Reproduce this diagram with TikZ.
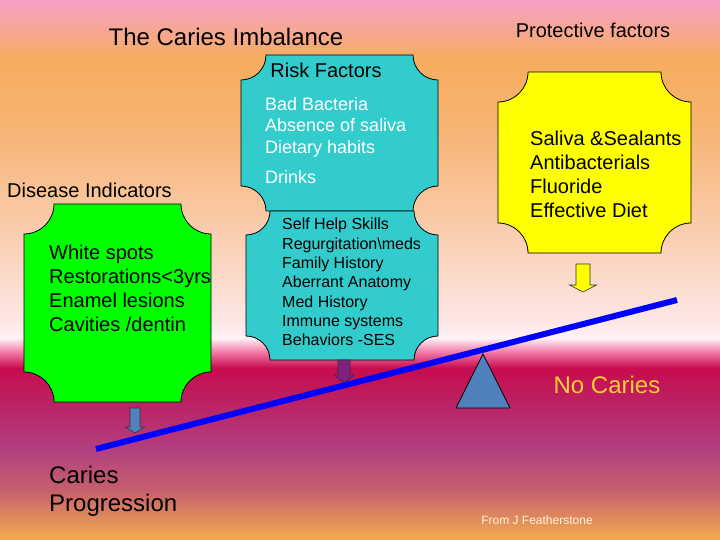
\documentclass[tikz,border=0pt]{standalone}
\usepackage{fontspec}
\setmainfont{Liberation Sans}

\definecolor{plaquegreen}{HTML}{00FF00}
\definecolor{plaqueteal}{HTML}{33CCCC}
\definecolor{plaqueyellow}{HTML}{FFFF00}
\definecolor{steel}{HTML}{4F81BD}
\definecolor{arrowpurple}{HTML}{7F1F7F}
\definecolor{nocariesgold}{HTML}{FFCC33}
\definecolor{cream}{HTML}{FFF2DC}
% background stops, top to bottom
\definecolor{bgA}{HTML}{F79FC6}
\definecolor{bgB}{HTML}{F7A69C}
\definecolor{bgC}{HTML}{F6AD5E}
\definecolor{bgD}{HTML}{F7B474}
\definecolor{bgE}{HTML}{F9C59C}
\definecolor{bgF}{HTML}{FBD8C6}
\definecolor{bgG}{HTML}{FDE6E4}
\definecolor{bgH}{HTML}{FFF2F6}
\definecolor{bgI}{HTML}{F27AA8}
\definecolor{bgJ}{HTML}{C80C4E}
\definecolor{bgK}{HTML}{BC2062}
\definecolor{bgL}{HTML}{B24080}
\definecolor{bgM}{HTML}{C6606E}
\definecolor{bgN}{HTML}{F4AC4E}

\pgfdeclareverticalshading{slidefade}{100bp}{color(0bp)=(bgN); color(25bp)=(bgN);
  color(29.63bp)=(bgM); color(33.33bp)=(bgL); color(37.96bp)=(bgK);
  color(40.93bp)=(bgJ); color(42.41bp)=(bgI); color(43.70bp)=(bgH);
  color(45.37bp)=(bgG); color(50bp)=(bgF); color(56.48bp)=(bgE);
  color(62.96bp)=(bgD); color(69.44bp)=(bgC); color(72.69bp)=(bgB);
  color(75bp)=(bgA); color(100bp)=(bgA)}

% plaque with concave corners: x1, y1, x2, y2, radius
\newcommand{\plaquepath}[5]{(#1+#5,#2) -- (#3-#5,#2)
  arc[start angle=180, end angle=90, radius=#5] -- (#3,#4-#5)
  arc[start angle=270, end angle=180, radius=#5] -- (#1+#5,#4)
  arc[start angle=0, end angle=-90, radius=#5] -- (#1,#2+#5)
  arc[start angle=90, end angle=0, radius=#5] -- cycle}
% block arrow pointing down: x, top, neck, tip, half shaft, half head
\newcommand{\blockdown}[6]{(#1-#5,#2) -- (#1+#5,#2) -- (#1+#5,#3)
  -- (#1+#6,#3) -- (#1,#4) -- (#1-#6,#3) -- (#1-#5,#3) -- cycle}

\begin{document}
\begin{tikzpicture}[x=1pt, y=-1pt,
    plaque/.style={draw=black, line width=0.8pt},
    blockarrow/.style={draw=black!80, line width=0.6pt},
    heading/.style={inner sep=0pt, font=\fontsize{20}{24}\selectfont},
    itemlist/.style={inner sep=0pt, align=left, anchor=west,
      font=\fontsize{20}{24}\selectfont}]
  \useasboundingbox (0,0) rectangle (720,540);
  \shade[shading=slidefade] (0,0) rectangle (720,540);

  % plaques
  \draw[plaque, fill=plaquegreen] \plaquepath{24}{204}{211}{402}{30};
  \draw[plaque, fill=plaqueteal] \plaquepath{241}{55}{438}{211}{25};
  \draw[plaque, fill=plaqueteal] \plaquepath{246}{211}{438}{360}{24};
  \draw[plaque, fill=plaqueyellow] \plaquepath{498}{72}{691}{253}{30};

  % arrows onto the beam
  \draw[blockarrow, fill=steel] \blockdown{135}{408}{427}{433}{5}{9.5};
  \draw[blockarrow, fill=arrowpurple] \blockdown{344}{360}{375}{383}{6}{10};
  \draw[blockarrow, fill=plaqueyellow] \blockdown{583}{264}{285}{292}{7}{13.5};

  % fulcrum and beam
  \draw[plaque, fill=steel] (483,354) -- (510,408) -- (456,408) -- cycle;
  \draw[blue, line width=6pt] (96,449) -- (677,300);

  \node[heading, font=\fontsize{24}{28}\selectfont] (title) at (226,37)
    {The Caries Imbalance};
  \node[heading] (protective) at (593,30) {Protective factors};
  \node[heading] (risk) at (326,70) {Risk Factors};
  \node[heading] (indicators) at (89.5,190) {Disease Indicators};

  \node[itemlist, text=white, font=\fontsize{18}{21.5}\selectfont]
    (riskmain) at (265,140.5)
    {Bad Bacteria\\Absence of saliva\\Dietary habits\\[8.5pt]Drinks};
  \node[itemlist, font=\fontsize{16}{19.3}\selectfont] (riskmore) at (282,282)
    {Self Help Skills\\Regurgitation\textbackslash meds\\Family History\\
     Aberrant Anatomy\\Med History\\Immune systems\\Behaviors -SES};
  \node[itemlist] (disease) at (49,288)
    {White spots\\Restorations<3yrs\\Enamel lesions\\Cavities /dentin};
  \node[itemlist] (protection) at (530,174)
    {Saliva \&Sealants\\Antibacterials\\Fluoride\\Effective Diet};

  \node[heading, text=nocariesgold, font=\fontsize{24}{28}\selectfont]
    (nocaries) at (607,385) {No Caries};
  \node[itemlist, font=\fontsize{24}{28}\selectfont] (progression) at (49,491)
    {Caries\\Progression};
  \node[heading, text=cream, font=\fontsize{12}{14}\selectfont]
    (credit) at (537,520) {From J Featherstone};
\end{tikzpicture}
\end{document}
